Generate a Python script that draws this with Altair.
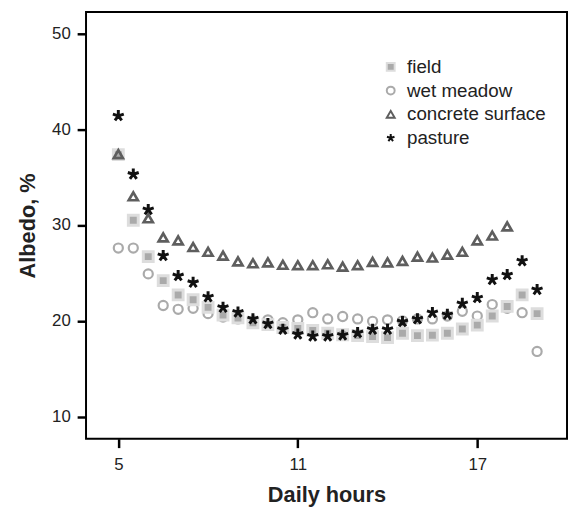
import altair as alt
import pandas as pd

hours = [5 + 0.5 * i for i in range(29)]

field = [37.35, 30.5, 26.7, 24.2, 22.7, 22.2, 21.4, 20.6, 20.3, 19.8,
         19.6, 19.3, 19.2, 19.0, 18.7, 18.55, 18.45, 18.35, 18.25, 18.7,
         18.45, 18.5, 18.7, 19.15, 19.55, 20.5, 21.5, 22.7, 20.75]

wet_meadow = [27.6, 27.6, 24.9, 21.6, 21.2, 21.3, 20.75, 20.4, 20.2, 20.0,
              20.1, 19.8, 20.1, 20.85, 20.2, 20.45, 20.2, 19.95, 20.1, 20.0,
              20.2, 20.2, 20.5, 21.0, 20.5, 21.7, 21.3, 20.85, 16.8]

concrete = [37.4, 33.0, 30.7, 28.7, 28.4, 27.7, 27.2, 26.8, 26.2, 26.0,
            26.1, 25.85, 25.8, 25.8, 25.9, 25.65, 25.8, 26.15, 26.1, 26.25,
            26.7, 26.6, 26.9, 27.2, 28.4, 28.9, 29.85]

pasture = [41.4, 35.3, 31.6, 26.8, 24.7, 24.0, 22.5, 21.4, 20.9, 20.2,
           19.7, 19.1, 18.6, 18.4, 18.4, 18.5, 18.75, 19.1, 19.1, 19.9,
           20.2, 20.85, 20.65, 21.8, 22.4, 24.3, 24.8, 26.25, 23.25]

series_names = ["field", "wet meadow", "concrete surface", "pasture"]

rows = []
for name, vals in [("wet meadow", wet_meadow), ("field", field),
                   ("concrete surface", concrete), ("pasture", pasture)]:
    for h, v in zip(hours, vals):
        rows.append({"hour": h, "albedo": v, "series": name})
df = pd.DataFrame(rows)

FONT = "Liberation Sans"
star = ("M0,0L0,-1M0,0L0.951,-0.309M0,0L0.588,0.809"
        "M0,0L-0.588,0.809M0,0L-0.951,-0.309")

legend = alt.Legend(title=None, orient="none", legendX=299, legendY=46,
                    direction="vertical",
                    padding=0, offset=0, rowPadding=4, labelOffset=7,
                    symbolSize=64, symbolStrokeWidth=2,
                    labelFontSize=19, labelFont=FONT, labelColor="#222222")

x_enc = alt.X("hour:Q",
              scale=alt.Scale(domain=[3.92, 20.0], nice=False, zero=False),
              axis=alt.Axis(values=[5, 11, 17], title="Daily hours",
                            tickSize=9, tickWidth=2.5, tickColor="black",
                            domain=False, grid=False, labelFontSize=17,
                            labelFont=FONT, labelColor="#222222", labelPadding=9,
                            titleFont=FONT, titleFontSize=22, titleFontWeight="bold",
                            titleColor="#222222", titlePadding=13))
y_enc = alt.Y("albedo:Q",
              scale=alt.Scale(domain=[7.69, 52.23], nice=False, zero=False),
              axis=alt.Axis(values=[10, 20, 30, 40, 50], title="Albedo, %",
                            tickSize=9, tickWidth=2.5, tickColor="black",
                            domain=False, grid=False, labelFontSize=17,
                            labelFont=FONT, labelColor="#222222", labelPadding=7,
                            titleFont=FONT, titleFontSize=22, titleFontWeight="bold",
                            titleColor="#222222", titlePadding=12))
shape_enc = alt.Shape("series:N",
                      scale=alt.Scale(domain=series_names,
                                      range=["square", "circle", "triangle-up", star]),
                      legend=legend)
fill_enc = alt.Fill("series:N",
                    scale=alt.Scale(domain=series_names,
                                    range=["#aaaaaa", "transparent", "transparent", "#111111"]),
                    legend=legend)
stroke_enc = alt.Stroke("series:N",
                        scale=alt.Scale(domain=series_names,
                                        range=["#dddddd", "#aaaaaa", "#5e5e5e", "#111111"]),
                        legend=legend)

base = alt.Chart(df).encode(x=x_enc, y=y_enc, shape=shape_enc,
                            fill=fill_enc, stroke=stroke_enc)

styles = {"wet meadow": (85, 2.2), "field": (100, 3.0),
          "concrete surface": (85, 2.7), "pasture": (135, 3.0)}
layers = []
for name in ["wet meadow", "field", "concrete surface", "pasture"]:
    sz, sw = styles[name]
    layers.append(
        base.mark_point(filled=True, opacity=1, size=sz, strokeWidth=sw)
        .transform_filter(alt.datum.series == name)
    )

chart = alt.layer(*layers).properties(
    width=487, height=432,
    padding={"left": 79, "top": 1, "right": 1, "bottom": 67},
    autosize=alt.AutoSizeParams(type="none"),
).configure_view(
    stroke="black", strokeWidth=2
)

chart.save("out.html", embed_options={"renderer": "svg", "actions": False})
